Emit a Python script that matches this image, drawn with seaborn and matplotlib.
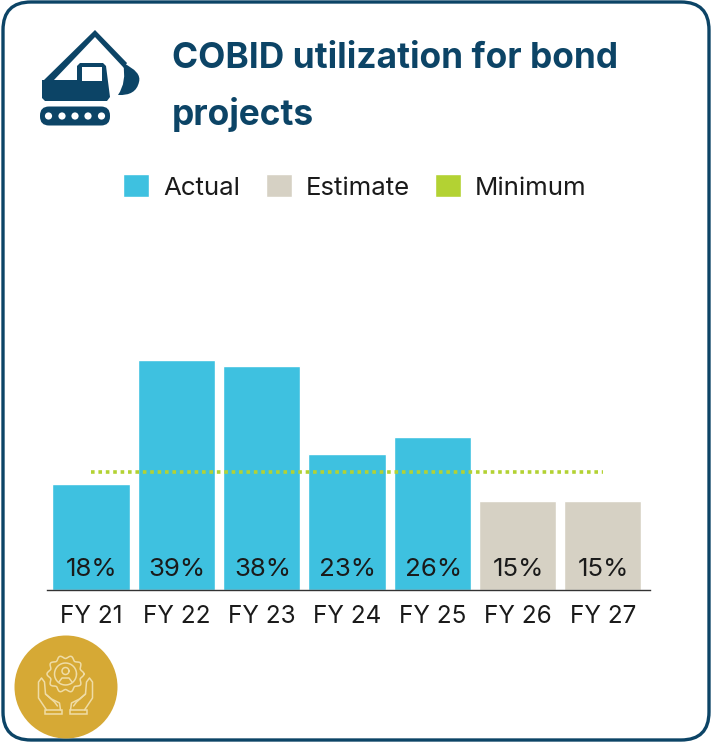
import matplotlib
matplotlib.use("Agg")
import matplotlib.pyplot as plt
import seaborn as sns
import pandas as pd
import numpy as np
from matplotlib.patches import FancyBboxPatch, Polygon, Circle, Rectangle, PathPatch
from matplotlib.path import Path

fiscal_years = ["FY 21", "FY 22", "FY 23", "FY 24", "FY 25", "FY 26", "FY 27"]
utilization = [18, 39, 38, 23, 26, 15, 15]
kinds = ["Actual", "Actual", "Actual", "Actual", "Actual", "Estimate", "Estimate"]
minimum = [20, 20, 20, 20, 20, 20, 20]
title_lines = ["COBID utilization for bond", "projects"]

NAVY = "#0C4466"
BLUE = "#3EC1E0"
TAN = "#D6D1C4"
GREEN = "#B3D233"
GOLD = "#D6A935"
INK = "#1A1A1A"
FAINT = "#EFDCA6"

sns.set_theme(style="white")
plt.rcParams["font.family"] = ["Inter", "DejaVu Sans"]

W, H = 712, 742
fig = plt.figure(figsize=(W / 100, H / 100), dpi=100, facecolor="white")

# pixel-coordinate overlay for the card and icons
ov = fig.add_axes([0, 0, 1, 1], zorder=0)
ov.set_xlim(0, W)
ov.set_ylim(H, 0)
ov.axis("off")
ov.add_patch(FancyBboxPatch((31, 30), 650, 682, boxstyle="round,pad=28,rounding_size=28",
                            fc="white", ec=NAVY, lw=2.4))

# excavator icon
ov.add_patch(Polygon([(43, 81), (95, 30), (127, 63), (124, 68), (95, 37), (53, 81)], fc=NAVY, ec="none"))
ov.add_patch(Polygon([(42, 80), (77, 80), (77, 66), (80, 63), (103, 63), (106, 66), (110, 97), (107, 101),
                      (45, 101), (42, 98)], fc=NAVY, ec="none"))
ov.add_patch(Rectangle((82, 67), 20, 13.5, fc="white", ec="none"))
ov.add_patch(PathPatch(Path([(123, 63), (142, 72), (139, 82), (136, 96), (118, 95), (127, 82), (123, 63)],
                            [Path.MOVETO, Path.CURVE3, Path.CURVE3, Path.CURVE3, Path.CURVE3,
                             Path.CURVE3, Path.CURVE3]),
                       fc=NAVY, ec="none"))
ov.add_patch(FancyBboxPatch((49, 115.5), 52, 1, boxstyle="round,pad=9,rounding_size=9", fc=NAVY, ec="none"))
for cx in [48.5, 62, 75, 88, 101.5]:
    ov.add_patch(Circle((cx, 116), 3.6, fc="white", ec="none"))

# gold badge
ov.add_patch(Circle((66, 687), 51.5, fc=GOLD, ec="none"))
sk = dict(color=FAINT, lw=1.1, solid_capstyle="round", solid_joinstyle="round")
t = np.linspace(0, 2 * np.pi, 200)
r = 17 + 1.5 * np.cos(10 * t)
ov.plot(65.5 + r * np.cos(t), 674 + r * np.sin(t), **sk)
ov.plot(65.5 + 11 * np.cos(t), 674 + 11 * np.sin(t), **sk)
ov.plot(65.5 + 3.5 * np.cos(t), 671 + 3.5 * np.sin(t), **sk)
ov.plot([59, 62, 69, 72], [682, 678, 678, 682], **sk)
for s in (-1, 1):
    xs = [19, 27, 27, 24, 21, 20, 14, 6, 5]
    ys = [710, 698, 682, 678, 682, 694, 699, 703, 710]
    ov.plot([65.5 + s * x for x in xs], ys, **sk)
    ov.plot([65.5 + s * 20, 65.5 + s * 11, 65.5 + s * 8], [694, 702, 706], **sk)
    ov.add_patch(Rectangle((65.5 + (4 if s > 0 else -21), 710), 17, 4, fc="none", ec=FAINT, lw=1.1))

# chart area: baseline at y=590, x from 47 to 650
left, right, bottom, top = 47, 650, 590, 230
ax = fig.add_axes([left / W, 1 - bottom / H, (right - left) / W, (bottom - top) / H], zorder=1)
ax.patch.set_alpha(0)
df = pd.DataFrame({"fy": fiscal_years, "value": utilization, "kind": kinds})
sns.barplot(data=df, x="fy", y="value", hue="kind", dodge=False, width=0.905, saturation=1,
            palette={"Actual": BLUE, "Estimate": TAN}, legend=False, ax=ax, zorder=2)
ax.plot(range(len(fiscal_years)), minimum, color=GREEN, lw=2.6, linestyle=(0, (1, 1.05)), zorder=3)
ax.set_xlim(-0.516, 6.553)
ax.set_ylim(0, 61.0)
ax.set_xlabel("")
ax.set_ylabel("")
ax.set_yticks([])
sns.despine(ax=ax, left=True, top=True, right=True)
ax.spines["bottom"].set_color("#333333")
ax.spines["bottom"].set_linewidth(1.0)
ax.tick_params(axis="x", length=0, pad=11, labelsize=17.5, labelcolor=INK)
for i, v in enumerate(utilization):
    ax.annotate(f"{v}%", (i, 0), xytext=(1, 21), textcoords="offset pixels", ha="center", va="center",
                fontsize=18.6, color=INK, zorder=4)

# legend and title
handles = [Rectangle((0, 0), 1, 1, fc=BLUE), Rectangle((0, 0), 1, 1, fc=TAN), Rectangle((0, 0), 1, 1, fc=GREEN)]
fig.legend(handles, ["Actual", "Estimate", "Minimum"], loc="center", bbox_to_anchor=(355 / W, 1 - 187 / H),
           ncol=3, frameon=False, fontsize=18.6, labelcolor=INK, handlelength=1.0, handleheight=1.0,
           handletextpad=0.54, columnspacing=1.0, borderpad=0, borderaxespad=0)
for line, y in zip(title_lines, [59, 114]):
    ov.text(172, y, line, fontsize=25.4, fontweight="bold", color=NAVY, ha="left", va="center")

fig.savefig("out.png", dpi=100)
